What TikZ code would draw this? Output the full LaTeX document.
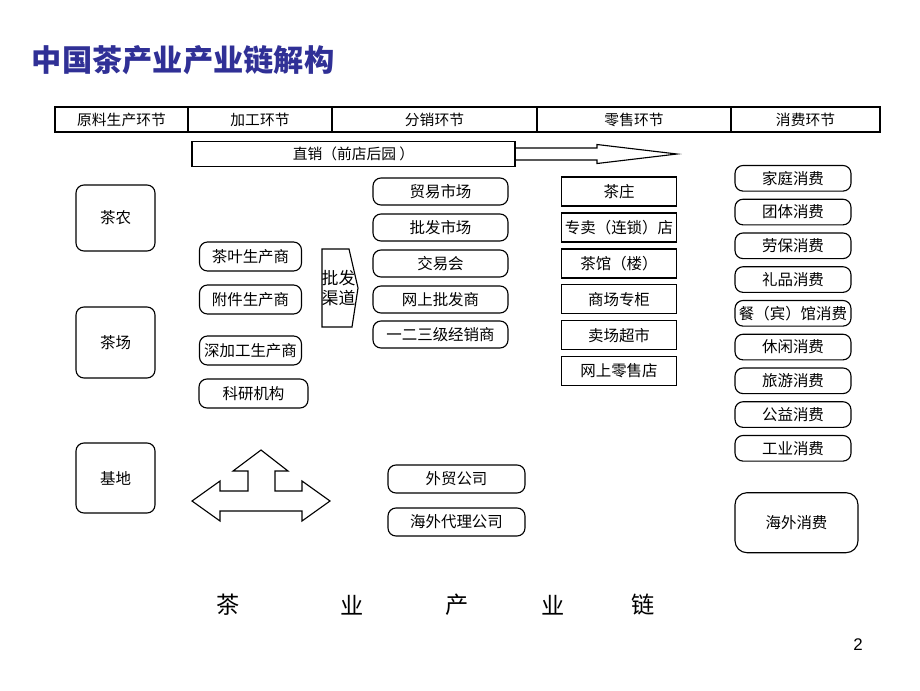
\documentclass[tikz,border=0pt]{standalone}
\usepackage{fontspec}
\setmainfont{Noto Sans CJK SC}
\newfontfamily\numfont{Liberation Sans}
\definecolor{titleblue}{RGB}{48,48,150}

\tikzset{
  cell/.style={draw,line width=0.8pt,inner sep=0pt,outer sep=0pt,minimum height=6.25mm,font=\fontsize{10.5}{12}\selectfont},
  rbox/.style={draw,rounded corners=2mm,line width=0.8pt,inner sep=0pt,font=\fontsize{11}{13}\selectfont},
  sbox/.style={draw,line width=1pt,inner sep=0pt,minimum width=28.75mm,minimum height=7.25mm,font=\fontsize{11}{13}\selectfont},
  shapeline/.style={line width=0.8pt,line join=miter}
}

\begin{document}
\begin{tikzpicture}[x=0.25mm,y=-0.25mm]
\useasboundingbox (0,0) rectangle (920,690);

% title
\node[anchor=west,text=titleblue,font=\fontsize{21.5}{24}\selectfont\bfseries] (title) at (27,60) {中国茶产业产业链解构};

% header row
\node[cell,minimum width=33.25mm] (h1) at (121.5,119.5) {原料生产环节};
\node[cell,minimum width=36mm] (h2) at (260,119.5) {加工环节};
\node[cell,minimum width=51.25mm] (h3) at (434.5,119.5) {分销环节};
\node[cell,minimum width=48.5mm] (h4) at (634,119.5) {零售环节};
\node[cell,minimum width=37.25mm] (h5) at (805.5,119.5) {消费环节};

% direct sales
\node[cell,minimum width=80.75mm] (direct) at (353.5,154) {直销（前店后园 ）};
\draw[shapeline] (direct.east |- 0,148)--(597,148)--(597,144.5)--(677,154)--(597,163.5)--(597,160)--(direct.east |- 0,160);

% raw material
\node[rbox,minimum width=19.75mm,minimum height=16.5mm] (farmer) at (115.5,218) {茶农};
\node[rbox,minimum width=19.75mm,minimum height=17.75mm] (farm) at (115.5,342.5) {茶场};
\node[rbox,minimum width=19.75mm,minimum height=17.5mm] (base) at (115.5,478) {基地};

% processing
\node[rbox,minimum width=25.5mm,minimum height=7.25mm] (maker1) at (250.5,256.5) {茶叶生产商};
\node[rbox,minimum width=25.5mm,minimum height=7.25mm] (maker2) at (250.5,299.5) {附件生产商};
\node[rbox,minimum width=25.5mm,minimum height=7.25mm] (maker3) at (250.5,350.5) {深加工生产商};
\node[rbox,minimum width=27.25mm,minimum height=7.25mm] (research) at (253.5,393.5) {科研机构};

% wholesale channel
\draw[shapeline] (322,249)--(349,249)--(358,288)--(352,327)--(322,327)--cycle;
\node[inner sep=0pt,align=left,font=\fontsize{12}{14.5}\selectfont] (channel) at (338.5,288) {批发\\渠道};

% distribution
\foreach \i/\y/\t in {1/191.5/贸易市场,2/227.5/批发市场,3/263.5/交易会,4/299.5/网上批发商,5/334.5/一二三级经销商}
  \node[rbox,minimum width=33.75mm,minimum height=6.75mm] (dist\i) at (440.5,\y) {\t};
\node[rbox,minimum width=34.25mm,minimum height=7mm] (trade) at (456.5,479) {外贸公司};
\node[rbox,minimum width=34.25mm,minimum height=7mm] (agent) at (456.5,522) {海外代理公司};

% retail
\foreach \i/\t in {0/茶庄,1/专卖（连锁）店,2/茶馆（楼）,3/商场专柜,4/卖场超市,5/网上零售店}
  \node[sbox] (shop\i) at (619,191.5+35.9*\i) {\t};

% consumption
\foreach \i/\t in {0/家庭消费,1/团体消费,2/劳保消费,3/礼品消费,4/餐（宾）馆消费,5/休闲消费,6/旅游消费,7/公益消费,8/工业消费}
  \node[rbox,minimum width=29mm,minimum height=6.4mm] (use\i) at (793,178.3+33.75*\i) {\t};
\node[rbox,rounded corners=3mm,minimum width=30.75mm,minimum height=15mm] (abroad) at (796.5,522.7) {海外消费};

% three-way arrow
\draw[shapeline] (192,501)--(220,481)--(220,491)--(248,491)--(248,471)--(233,471)--(261,450)--(288,471)--(275,471)--(275,491)--(302,491)--(302,481)--(330,501)--(302,521)--(302,511)--(220,511)--(220,521)--cycle;

% caption
\foreach \i/\x/\t in {1/228/茶,2/352/业,3/457/产,4/553/业,5/643/链}
  \node[font=\fontsize{16.5}{18}\selectfont] (cap\i) at (\x,605) {\t};

\node[font=\fontsize{12}{14}\selectfont\numfont] (page) at (858,645) {2};
\end{tikzpicture}
\end{document}
